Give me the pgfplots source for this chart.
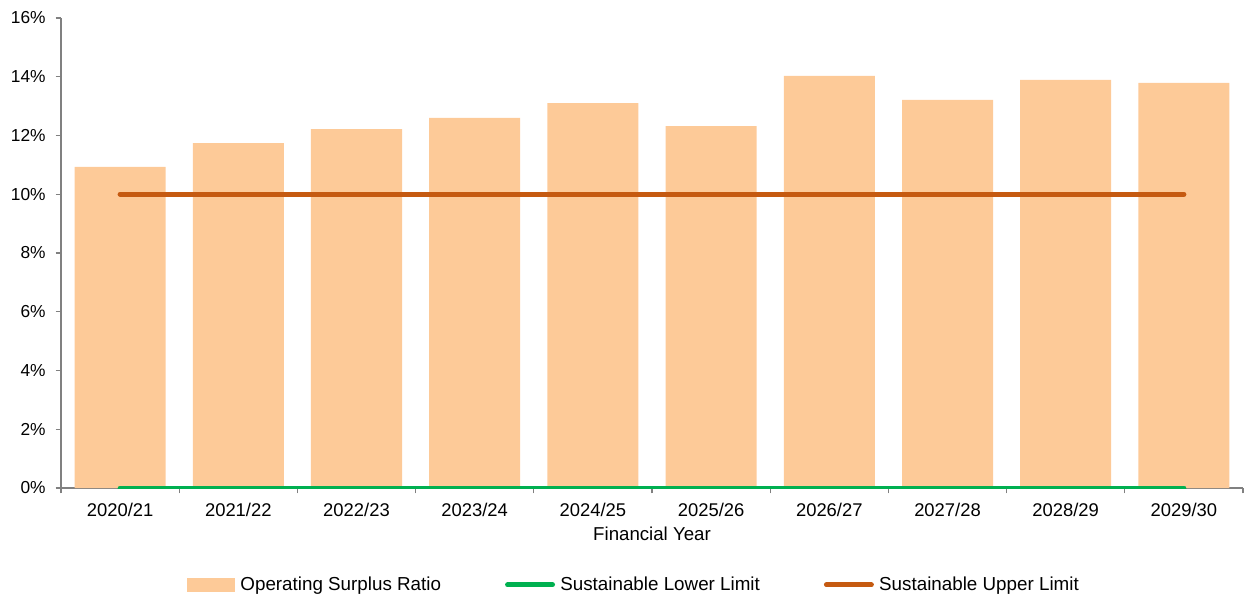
\documentclass[border=0pt]{standalone}
\usepackage{fontspec}
\setmainfont{Liberation Sans}
\usepackage{pgfplots}
\pgfplotsset{compat=1.18}
\definecolor{barc}{HTML}{FDCA98}
\definecolor{upc}{HTML}{C55A11}
\definecolor{lowc}{HTML}{00B050}
\definecolor{axc}{HTML}{808080}
\begin{document}
\begin{tikzpicture}[x=1pt,y=1pt]
\useasboundingbox (-45.75,-81.75) rectangle (888,366);
\begin{axis}[
  at={(0,0)}, anchor=south west,
  scale only axis, width=886.5pt, height=352.5pt,
  xmin=-0.5, xmax=9.5, ymin=0, ymax=16,
  axis x line*=bottom, axis y line*=left,
  axis line style={axc, line width=0.8pt},
  tick style={axc, line width=0.8pt},
  tick align=outside,
  xtick={0,...,9},
  xticklabels={2020/21,2021/22,2022/23,2023/24,2024/25,2025/26,2026/27,2027/28,2028/29,2029/30},
  major x tick style={draw=none},
  minor xtick={-0.5,0.5,...,9.5},
  minor tick length=4pt,
  ytick={0,2,...,16},
  yticklabels={0\%,2\%,4\%,6\%,8\%,10\%,12\%,14\%,16\%},
  major tick length=4pt,
  ticklabel style={text=black},
  xticklabel style={font=\fontsize{13.8}{16}\selectfont, yshift=-3.5pt},
  yticklabel style={font=\fontsize{13}{16}\selectfont, xshift=-4pt},
  xlabel={Financial Year},
  xlabel style={font=\fontsize{14}{16}\selectfont, at={(axis description cs:0.5,-0.098)}, anchor=center},
  legend columns=-1,
  legend style={at={(0.485,-0.206)}, anchor=center, draw=none, font=\fontsize{14.1}{16}\selectfont,
    /tikz/every even column/.append style={column sep=46pt},
    /tikz/every odd column/.append style={column sep=2pt}},
]
\addplot[ybar, bar width=0.77, fill=barc, draw=none,
  legend image code/.code={\fill[barc] (0pt,-5.25pt) rectangle (36pt,5.25pt);}]
  coordinates {(0,10.93) (1,11.74) (2,12.22) (3,12.60) (4,13.10) (5,12.32) (6,14.03) (7,13.21) (8,13.89) (9,13.79)};
\addlegendentry{Operating Surplus Ratio}
\addplot[lowc, line width=3.75pt, line cap=round,
  legend image code/.code={\draw[lowc, line width=3.75pt, line cap=round] (1.9pt,0pt) -- (35.6pt,0pt);}]
  coordinates {(0,0) (9,0)};
\addlegendentry{Sustainable Lower Limit}
\addplot[upc, line width=3.75pt, line cap=round,
  legend image code/.code={\draw[upc, line width=3.75pt, line cap=round] (1.9pt,0pt) -- (35.6pt,0pt);}]
  coordinates {(0,10) (9,10)};
\addlegendentry{Sustainable Upper Limit}
\end{axis}
\end{tikzpicture}
\end{document}
